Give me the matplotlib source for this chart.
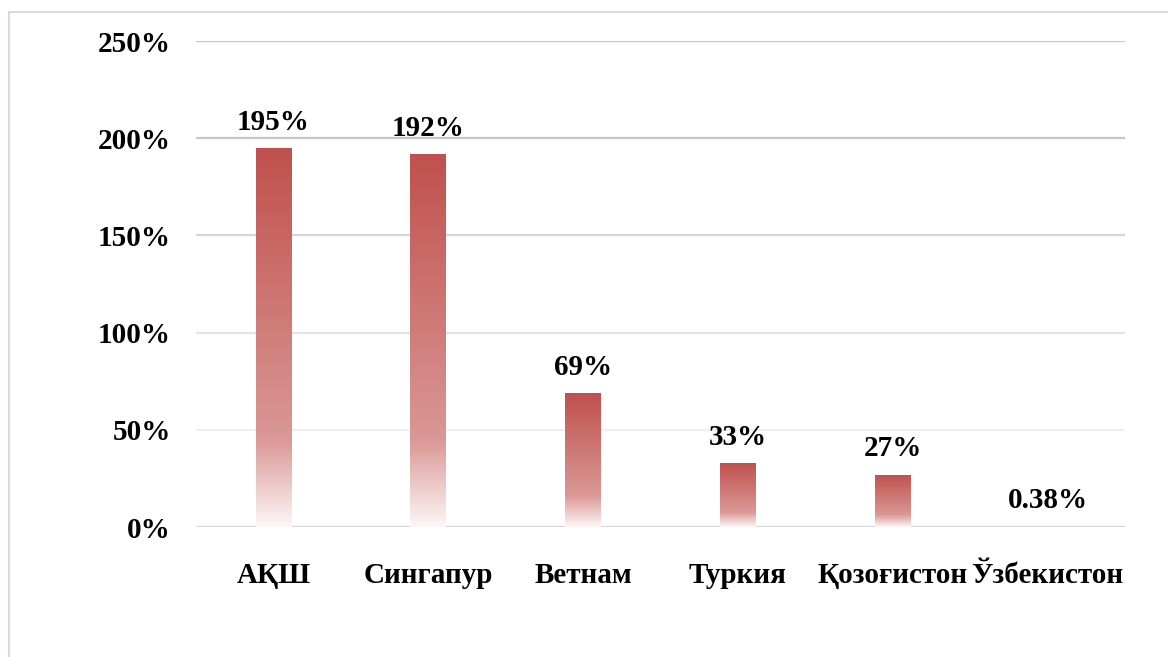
import matplotlib
matplotlib.use("Agg")
import matplotlib.pyplot as plt
import numpy as np
from matplotlib.colors import LinearSegmentedColormap
from matplotlib.patches import Rectangle

categories = ["АҚШ", "Сингапур", "Ветнам", "Туркия", "Қозоғистон", "Ўзбекистон"]
values = [195, 192, 69, 33, 27, 0.38]
labels = ["195%", "192%", "69%", "33%", "27%", "0.38%"]
yticks = [0, 50, 100, 150, 200, 250]
ytick_labels = ["0%", "50%", "100%", "150%", "200%", "250%"]

plt.rcParams['font.family'] = ['Liberation Serif', 'DejaVu Serif']
plt.rcParams['font.weight'] = 'bold'

W, H = 1168, 657
fig = plt.figure(figsize=(W / 100, H / 100), dpi=100)
ax = fig.add_axes([196 / W, (H - 527) / H, (1125 - 196) / W, (527 - 41) / H])

# figure border
fig.patches.append(Rectangle((9 / W, -0.05), 1.2, (H - 12) / H + 0.05,
                             transform=fig.transFigure, fill=False,
                             edgecolor='#D9D9D9', linewidth=1.5))

# gridlines with slight fade
grid_colors = {0: '#D6D6D6', 50: '#EFEFEF', 100: '#E4E4E4', 150: '#D6D6D6',
               200: '#C6C6C6', 250: '#C6C6C6'}
for t in yticks:
    ax.axhline(t, color=grid_colors[t], linewidth=1.6, zorder=0)

# gradient colormap (0 = bottom, 1 = top)
cmap = LinearSegmentedColormap.from_list(
    'grad', [(0.0, '#FDF6F6'), (0.23, '#DA9896'), (1.0, '#C0504D')])
grad = np.linspace(0, 1, 256).reshape(-1, 1)

x = np.arange(len(categories))
bw = 0.23
bars = ax.bar(x, values, width=bw, color='none', edgecolor='none', zorder=2)
for b in bars:
    x0 = b.get_x()
    h = b.get_height()
    if h <= 1:
        continue
    im = ax.imshow(grad, cmap=cmap, extent=[x0, x0 + bw, 0, h], origin='lower',
                   aspect='auto', zorder=2, interpolation='bilinear')
    im.set_clip_path(b)

for xi, v, lab in zip(x, values, labels):
    ax.annotate(lab, (xi, v), xytext=(0, 13), textcoords='offset points',
                ha='center', va='baseline', fontsize=21, fontweight='bold',
                color='black')

ax.set_xlim(-0.5, len(categories) - 0.5)
ax.set_ylim(0, 250)
ax.set_yticks(yticks)
ax.set_yticklabels(ytick_labels, fontsize=21, fontweight='bold')
ax.set_xticks(x)
ax.set_xticklabels(categories, fontsize=21, fontweight='bold')
ax.tick_params(axis='y', length=0, pad=18)
ax.tick_params(axis='x', length=0, pad=25.5)
for s in ax.spines.values():
    s.set_visible(False)

fig.savefig('out.png', dpi=100)
